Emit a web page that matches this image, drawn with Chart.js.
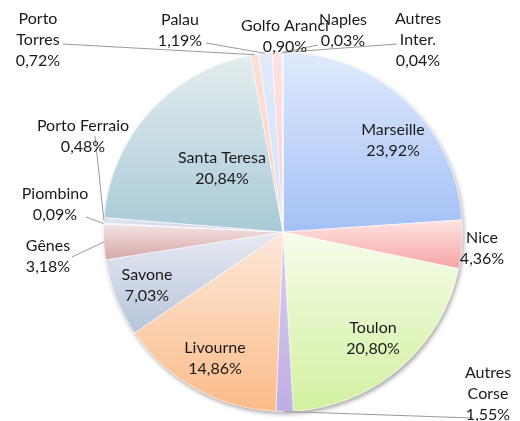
<!DOCTYPE html>
<html>
<head>
<meta charset="utf-8">
<script src="https://cdn.jsdelivr.net/npm/chart.js@4.4.1/dist/chart.umd.min.js"></script>
<style>
  html, body { margin: 0; padding: 0; background: #ffffff; }
  #wrap { width: 520px; height: 421px; }
</style>
</head>
<body>
<div id="wrap"><canvas id="c" width="520" height="421"></canvas></div>
<script>
// ---- data ----
const categories = ['Marseille', 'Nice', 'Toulon', 'Autres Corse', 'Livourne', 'Savone', 'Gênes',
  'Piombino', 'Porto Ferraio', 'Santa Teresa', 'Porto Torres', 'Palau', 'Golfo Aranci', 'Naples', 'Autres Inter.'];
const shares = [23.92, 4.36, 20.80, 1.55, 14.86, 7.03, 3.18, 0.09, 0.48, 20.84, 0.72, 1.19, 0.90, 0.03, 0.04];

// ---- styles ----
const colorTop = ['#e0eafc', '#fde4e4', '#f5fce9', '#d8cdf0', '#fde8da', '#e6eaf2', '#f3e3e3',
  '#e4e4ef', '#e2e6f0', '#e4edef', '#fde0d6', '#e1ebfc', '#fde3e3', '#eef8dd', '#e3dbf2'];
const colorBottom = ['#a3c0f6', '#f7a3a3', '#d3f0a0', '#c0aee3', '#fbbb88', '#b7c4da', '#d6a7a7',
  '#cfd0e0', '#ccd3e2', '#a9cad7', '#fbcfc2', '#d2e0fb', '#fbd0d0', '#d9f0b0', '#cfc3ea'];
// label block centre, offset from pie centre (px)
const labelOffset = [[110, -92], [199, 16], [90, 106], [205, 162], [-68, 126], [-136, 53], [-235, 24],
  [-228, -28], [-200, -96], [-61, -64], [-245, -192], [-103, -202], [2, -196], [60, -202], [135, -192]];
// leader line start (label side), offset from pie centre; null = no leader
const leaderStart = [null, null, null, [190, 186], null, null, [-211, 25],
  [-197, -15], [-188, -96], null, [-220, -188], [-77, -189], null, [35, -187], [114, -188]];
const wrapName = [false, false, false, true, false, false, false, false, false, false, true, false, false, false, true];

const FONT = '16px Lato, "Open Sans", sans-serif';
const LINE_H = 21;

function sliceGradient(ctx) {
  const chart = ctx.chart;
  const i = ctx.dataIndex;
  const area = chart.chartArea;
  if (!area || i === undefined) return colorTop[i] || '#ccc';
  const cx = (area.left + area.right) / 2, cy = (area.top + area.bottom) / 2;
  const R = Math.min(area.width, area.height) / 2;
  const total = shares.reduce((a, b) => a + b, 0);
  let before = 0;
  for (let k = 0; k < i; k++) before += shares[k];
  const a0 = -Math.PI / 2 + 2 * Math.PI * before / total;
  const a1 = a0 + 2 * Math.PI * shares[i] / total;
  let yMin = cy, yMax = cy;
  const steps = 40;
  for (let s = 0; s <= steps; s++) {
    const a = a0 + (a1 - a0) * s / steps;
    const y = cy + R * Math.sin(a);
    yMin = Math.min(yMin, y); yMax = Math.max(yMax, y);
  }
  if (yMax - yMin < 1) yMax = yMin + 1;
  const g = chart.ctx.createLinearGradient(0, yMin, 0, yMax);
  g.addColorStop(0, colorTop[i]);
  g.addColorStop(1, colorBottom[i]);
  return g;
}

const shadowPlugin = {
  id: 'pieShadow',
  beforeDatasetsDraw(chart) {
    const arc = chart.getDatasetMeta(0).data[0];
    if (!arc) return;
    const c = chart.ctx;
    c.save();
    c.shadowColor = 'rgba(0,0,0,0.35)';
    c.shadowBlur = 4;
    c.shadowOffsetX = 1.5;
    c.shadowOffsetY = 2.5;
    c.fillStyle = '#ffffff';
    c.beginPath();
    c.arc(arc.x, arc.y, arc.outerRadius, 0, Math.PI * 2);
    c.fill();
    c.restore();
  }
};

const labelPlugin = {
  id: 'pieLabels',
  afterDatasetsDraw(chart) {
    const meta = chart.getDatasetMeta(0);
    const c = chart.ctx;
    c.save();
    c.font = FONT;
    c.textAlign = 'center';
    c.textBaseline = 'middle';
    meta.data.forEach((arc, i) => {
      const cx = arc.x, cy = arc.y;
      const mid = (arc.startAngle + arc.endAngle) / 2;
      const ex = cx + arc.outerRadius * Math.cos(mid);
      const ey = cy + arc.outerRadius * Math.sin(mid);
      if (leaderStart[i]) {
        c.strokeStyle = '#9a9a9a';
        c.lineWidth = 1;
        c.beginPath();
        c.moveTo(cx + leaderStart[i][0], cy + leaderStart[i][1]);
        c.lineTo(ex, ey);
        c.stroke();
      }
    });
    meta.data.forEach((arc, i) => {
      const cx = arc.x, cy = arc.y;
      const lines = wrapName[i] ? categories[i].split(' ') : [categories[i]];
      lines.push(shares[i].toFixed(2).replace('.', ',') + '%');
      const lx = cx + labelOffset[i][0], ly = cy + labelOffset[i][1];
      c.fillStyle = '#1a1a1a';
      lines.forEach((t, k) => {
        c.fillText(t, lx, ly + LINE_H * (k - (lines.length - 1) / 2));
      });
    });
    c.restore();
  }
};

new Chart(document.getElementById('c'), {
  type: 'pie',
  data: {
    labels: categories,
    datasets: [{
      data: shares,
      backgroundColor: sliceGradient,
      borderColor: 'rgba(255,255,255,0.55)',
      borderWidth: 1,
      hoverOffset: 0
    }]
  },
  options: {
    responsive: false,
    animation: false,
    layout: { padding: { left: 103, right: 57, top: 52, bottom: 9 } },
    plugins: { legend: { display: false }, tooltip: { enabled: false } }
  },
  plugins: [shadowPlugin, labelPlugin]
});
</script>
</body>
</html>
